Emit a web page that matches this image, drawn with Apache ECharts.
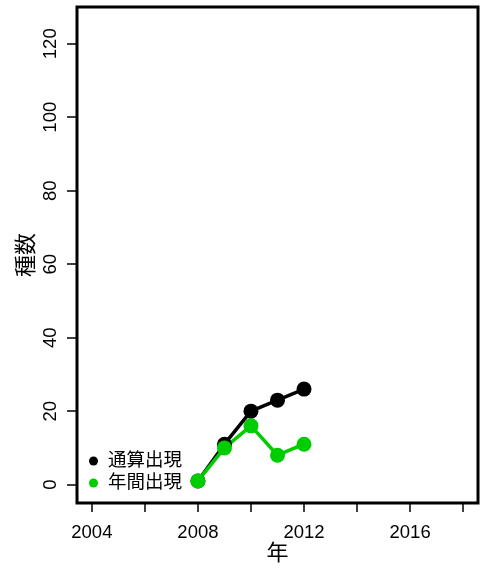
<!DOCTYPE html>
<html><head><meta charset="utf-8">
<script src="https://cdn.jsdelivr.net/npm/echarts@6/dist/echarts.min.js"></script>
<style>html,body{margin:0;padding:0;background:#fff}#c{width:488px;height:570px}</style>
</head><body><div id="c"></div>
<script>
var years = [2008, 2009, 2010, 2011, 2012];
var cumulative = [1, 11, 20, 23, 26];
var annual = [1, 10, 16, 8, 11];
var seriesNames = ['通算出現', '年間出現'];
var xTicks = [2004, 2006, 2008, 2010, 2012, 2014, 2016, 2018];
var xLabels = [2004, 2008, 2012, 2016];
var yTicks = [0, 20, 40, 60, 80, 100, 120];
var FONT = 'Liberation Sans, Arial, Noto Sans CJK JP, sans-serif';
function pairs(xs, ys){ return xs.map(function(x,i){return [x, ys[i]];}); }
var chart = echarts.init(document.getElementById('c'), null, {renderer:'canvas'});
chart.setOption({
  animation:false,
  backgroundColor:'#fff',
  textStyle:{fontFamily:FONT},
  grid:{left:77,right:10,top:7,bottom:67,show:true,borderWidth:3,borderColor:'#000',backgroundColor:'transparent'},
  legend:{
    orient:'vertical', left:84, top:445, icon:'circle', itemWidth:9, itemHeight:9, itemGap:0,
    textStyle:{fontSize:18.5, color:'#000', fontFamily:FONT, lineHeight:22, padding:[0,0,0,5]},
    data:seriesNames
  },
  xAxis:{
    type:'value', min:2003.44, max:2018.56,
    splitLine:{show:false}, axisLine:{show:false, onZero:false},
    axisTick:{show:true, inside:false, length:9, lineStyle:{color:'#000', width:1.5}, customValues:xTicks},
    axisLabel:{show:true, fontSize:18.5, color:'#000', margin:21, fontFamily:FONT, customValues:xLabels,
      formatter:function(v){return String(v);}},
    name:'年', nameLocation:'middle', nameGap:40, nameMoveOverlap:false, nameTextStyle:{fontSize:22, color:'#000', fontFamily:FONT}
  },
  yAxis:{
    type:'value', min:-5, max:130,
    splitLine:{show:false}, axisLine:{show:false, onZero:false},
    axisTick:{show:true, inside:false, length:10, lineStyle:{color:'#000', width:1.5}, customValues:yTicks},
    axisLabel:{show:true, fontSize:18.5, color:'#000', rotate:90, margin:17, fontFamily:FONT, customValues:yTicks},
    name:'種数', nameLocation:'middle', nameGap:39, nameMoveOverlap:false, nameRotate:90, nameTextStyle:{fontSize:22, color:'#000', fontFamily:FONT}
  },
  series:[
    {name:seriesNames[0], type:'line', data:pairs(years, cumulative), symbol:'circle', symbolSize:15,
     itemStyle:{color:'#000'}, lineStyle:{color:'#000', width:3.5}},
    {name:seriesNames[1], type:'line', data:pairs(years, annual), symbol:'circle', symbolSize:15,
     itemStyle:{color:'#00CD00'}, lineStyle:{color:'#00CD00', width:3.5}}
  ]
});
</script></body></html>
